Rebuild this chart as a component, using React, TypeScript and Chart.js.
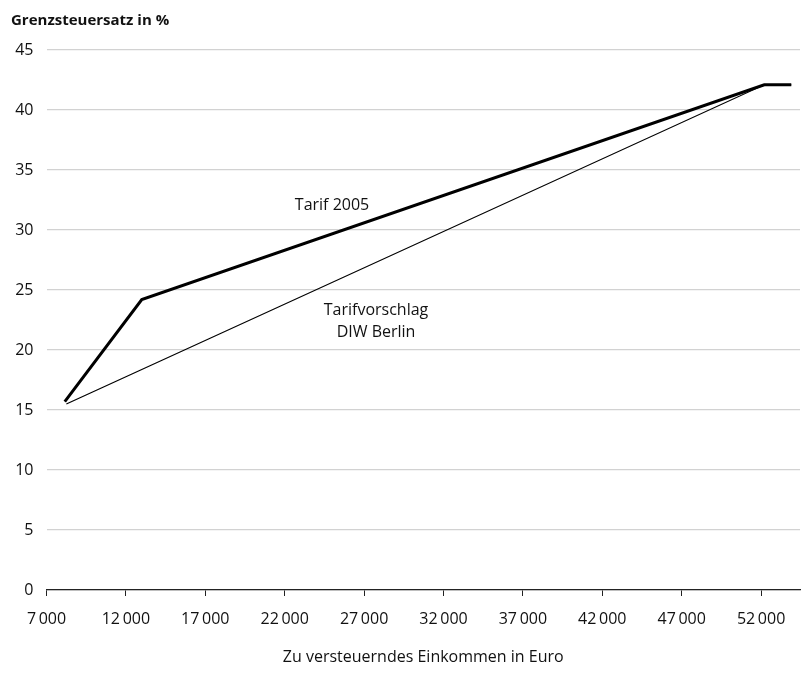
import { useEffect, useRef } from "react";
import { Chart, registerables } from "chart.js";

Chart.register(...registerables);

// ---- data ----
const incomeTicks = [7000, 12000, 17000, 22000, 27000, 32000, 37000, 42000, 47000, 52000];
const rateTicks = [0, 5, 10, 15, 20, 25, 30, 35, 40, 45];

const tarif2005Income = [8150, 13000, 52200, 53900];
const tarif2005Rate = [15.7, 24.2, 42.1, 42.1];

const diwIncome = [8250, 52200, 53900];
const diwRate = [15.5, 42.1, 42.1];

const yTitle = "Grenzsteuersatz in %";
const xTitle = "Zu versteuerndes Einkommen in Euro";

const annotationTexts = ["Tarif 2005", "Tarifvorschlag", "DIW Berlin"];
const annotationIncome = [24980, 27750, 27750];
const annotationRate = [31.7, 22.9, 21.1];

const FONT = "'Open Sans', sans-serif";

function fmt(v: number): string {
  const th = Math.floor(v / 1000);
  const rest = String(v % 1000).padStart(3, "0");
  return th > 0 ? `${th}\u2009${rest}` : String(v);
}

const labelsPlugin = {
  id: "labelsPlugin",
  afterDraw(chart: any) {
    const { ctx, scales } = chart;
    ctx.save();
    ctx.fillStyle = "#111";
    ctx.font = `bold 15px ${FONT}`;
    ctx.textAlign = "left";
    ctx.textBaseline = "alphabetic";
    ctx.fillText(yTitle, 11, 25);
    ctx.font = `16px ${FONT}`;
    ctx.textAlign = "center";
    for (let i = 0; i < annotationTexts.length; i++) {
      const x = scales.x.getPixelForValue(annotationIncome[i]);
      const y = scales.y.getPixelForValue(annotationRate[i]);
      ctx.fillText(annotationTexts[i], x, y);
    }
    ctx.restore();
  },
};

export default function App() {
  const ref = useRef<HTMLCanvasElement | null>(null);

  useEffect(() => {
    if (!ref.current) return;
    const chart = new Chart(ref.current, {
      type: "line",
      data: {
        datasets: [
          {
            label: "Tarif 2005",
            data: tarif2005Income.map((x, i) => ({ x, y: tarif2005Rate[i] })),
            borderColor: "#000",
            borderWidth: 3,
            pointRadius: 0,
            tension: 0,
            fill: false,
          },
          {
            label: "Tarifvorschlag DIW Berlin",
            data: diwIncome.map((x, i) => ({ x, y: diwRate[i] })),
            borderColor: "#000",
            borderWidth: 1.2,
            pointRadius: 0,
            tension: 0,
            fill: false,
          },
        ],
      },
      options: {
        animation: false,
        responsive: false,
        maintainAspectRatio: false,
        layout: { padding: { top: 50, right: 5, left: 0, bottom: 0 } },
        plugins: {
          legend: { display: false },
          tooltip: { enabled: false },
          title: { display: false },
        },
        scales: {
          x: {
            type: "linear",
            min: 7000,
            max: 54450,
            afterBuildTicks: (scale: any) => {
              scale.ticks = incomeTicks.map((v) => ({ value: v }));
            },
            afterFit: (scale: any) => {
              scale.height = 85;
            },
            grid: {
              drawOnChartArea: false,
              drawTicks: true,
              tickLength: 6,
              color: "#222",
              lineWidth: 1,
            },
            border: { display: true, color: "#222", width: 1.3 },
            ticks: {
              autoSkip: false,
              maxRotation: 0,
              padding: 14,
              color: "#111",
              font: { family: FONT, size: 16 },
              callback: (v: any) => fmt(Number(v)),
            },
            title: {
              display: true,
              text: xTitle,
              color: "#111",
              font: { family: FONT, size: 16 },
              padding: { top: 0, bottom: 8 },
            },
          },
          y: {
            type: "linear",
            min: 0,
            max: 45,
            afterBuildTicks: (scale: any) => {
              scale.ticks = rateTicks.map((v) => ({ value: v }));
            },
            afterFit: (scale: any) => {
              scale.width = 46.5;
            },
            grid: {
              drawTicks: false,
              color: "#d2d2d2",
              lineWidth: 1.2,
            },
            border: { display: false },
            ticks: {
              padding: 13,
              color: "#111",
              font: { family: FONT, size: 16 },
            },
          },
        },
      },
      plugins: [labelsPlugin],
    } as any);
    return () => chart.destroy();
  }, []);

  return (
    <div style={{ position: "absolute", left: 0, top: 0, width: 805, height: 675, background: "#fff" }}>
      <canvas ref={ref} width={805} height={675} style={{ width: 805, height: 675 }} />
    </div>
  );
}
